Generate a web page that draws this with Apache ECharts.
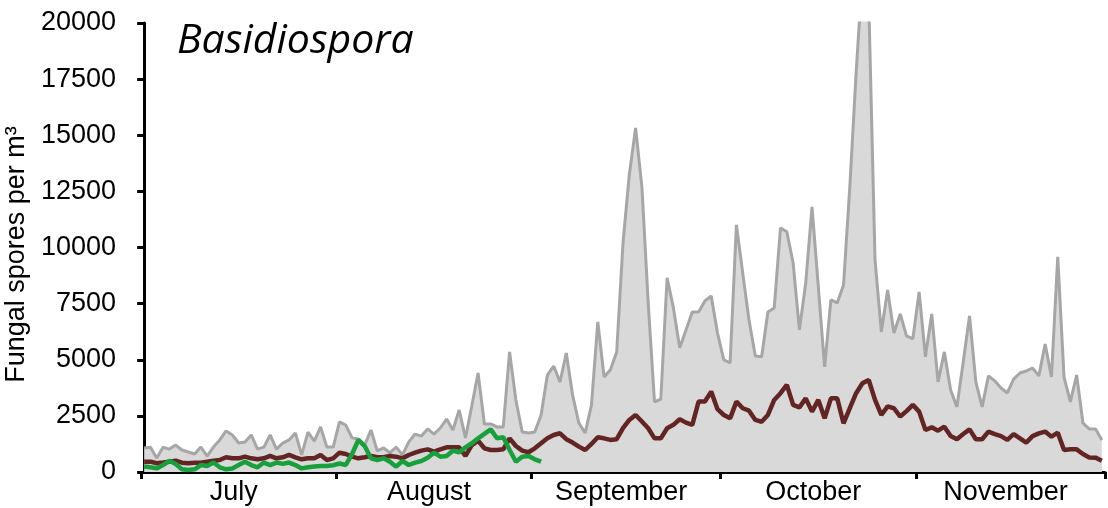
<!DOCTYPE html>
<html>
<head>
<meta charset="utf-8">
<script src="https://cdn.jsdelivr.net/npm/echarts@6/dist/echarts.min.js"></script>
<style>
html,body{margin:0;padding:0;background:#fff;}
#chart{width:1108px;height:508px;}
</style>
</head>
<body>
<div id="chart"></div>
<script>
// Daily values, 1 July (index 0) to 30 November (index 152)
const totalSpores = [
  1070,1100,620,1100,1020,1200,980,890,800,1110,710,1110,1430,1830,1650,1290,1340,1650,1020,1110,1650,1020,1290,1430,1740,760,1780,1380,2010,1110,1110,
  2230,2090,1520,1470,1200,1870,940,1070,850,1110,760,1340,1690,1600,1920,1690,1960,2360,1870,2760,1520,2940,4410,2140,2140,2010,2010,5350,3210,1780,1740,
  1780,2540,4320,4720,4010,5300,3430,2180,1740,2990,6690,4230,4550,5350,10200,13240,15330,12700,7530,3120,3250,8650,7310,5530,6330,7130,7130,7620,7840,6190,
  4990,4860,11010,8870,6770,5170,5130,7130,7310,10870,10700,9320,6330,8420,11810,8250,4680,7670,7530,8330,12700,17780,22200,21000,9450,6240,8110,6190,7040,6060,5930,
  8020,5130,7040,4010,5350,3650,2900,4900,6950,4010,2900,4280,4060,3740,3520,4140,4410,4500,4630,4280,5700,4230,9580,4230,3120,4320,2180,1920,1920,1430
];
const meanSpores = [
  460,460,390,420,460,505,415,390,415,415,460,505,535,655,610,610,685,610,565,610,715,610,655,760,655,565,610,610,760,535,610,
  860,800,683,609,654,713,654,654,713,683,609,757,862,950,1010,906,1010,1100,1100,1100,713,1200,1390,1055,980,980,1010,1500,1160,950,880,
  1055,1280,1500,1650,1725,1460,1310,1130,980,1250,1550,1500,1430,1460,1950,2320,2540,2250,1950,1500,1500,1950,2100,2350,2200,2100,3140,3140,3580,2800,
  2540,2390,3135,2840,2730,2320,2240,2540,3210,3510,3880,2990,2880,3280,2690,3210,2390,3280,3280,2170,2840,3510,3950,4100,3210,2540,2920,2840,2470,2710,2990,
  2690,1870,1990,1840,2020,1600,1460,1690,1900,1460,1460,1800,1690,1600,1430,1690,1500,1310,1600,1720,1800,1575,1750,980,1010,1010,800,650,640,505
];
const currentYear = [
  240,210,160,310,500,360,120,90,120,310,270,420,210,120,160,310,460,310,210,420,310,420,360,420,310,160,210,240,270,270,300,
  380,312,800,1426,1158,609,535,609,460,238,490,312,416,490,639,862,683,713,950,877,1100,1280,1500,1700,1900,1500,1545,980,460,683,713,
  565,460
];
const monthNames = ['July','August','September','October','November'];
const monthStarts = [0,31,62,92,123,153];
const yTicks = {min:0, max:20000, step:2500};
const titleText = 'Basidiospora';
const yAxisName = 'Fungal spores per m\u00B3';

const pairs = arr => arr.map((v,i)=>[i,v]);
const tickVals = monthStarts.map(d=>d-0.5);
const labelVals = monthNames.map((m,k)=>(monthStarts[k]+monthStarts[k+1])/2-0.5);

const chart = echarts.init(document.getElementById('chart'), null, {renderer:'canvas'});
chart.setOption({
  animation:false,
  backgroundColor:'#ffffff',
  title:{
    text:titleText, left:172, top:16,
    textStyle:{fontFamily:'Open Sans', fontStyle:'italic', fontWeight:'normal', fontSize:41, color:'#000'}
  },
  grid:{left:141, right:3, top:23, bottom:36, containLabel:false, outerBoundsMode:'none'},
  xAxis:{
    type:'value', min:-0.5, max:152.5,
    splitLine:{show:false},
    axisLine:{show:true, onZero:false, lineStyle:{color:'#000', width:3}},
    axisTick:{show:true, customValues:tickVals, length:7, lineStyle:{color:'#000', width:3}},
    axisLabel:{
      customValues:labelVals, margin:7, padding:[0,10,0,0],
      fontFamily:'Liberation Sans, Arial', fontSize:27, color:'#000',
      formatter:function(v){ const k = labelVals.findIndex(x=>Math.abs(x-v)<0.01); return k>=0?monthNames[k]:''; }
    }
  },
  yAxis:{
    type:'value', min:yTicks.min, max:yTicks.max, interval:yTicks.step,
    name:yAxisName, nameLocation:'middle', nameGap:103, nameRotate:90,
    nameTextStyle:{fontFamily:'Liberation Sans, Arial', fontSize:27, color:'#000', padding:[0,0,0,-14]},
    splitLine:{show:false},
    axisLine:{show:true, lineStyle:{color:'#000', width:3}},
    axisTick:{show:true, length:7, lineStyle:{color:'#000', width:3}},
    axisLabel:{margin:25, fontFamily:'Liberation Sans, Arial', fontSize:27, color:'#000',
      formatter:function(v){ return String(v); }}
  },
  series:[
    {type:'line', data:pairs(totalSpores), showSymbol:false, clip:true, z:1,
     lineStyle:{color:'#a6a6a6', width:3}, areaStyle:{color:'#d9d9d9', opacity:1}},
    {type:'line', data:pairs(meanSpores), showSymbol:false, clip:true, z:2,
     lineStyle:{color:'#632523', width:4.5}},
    {type:'line', data:pairs(currentYear), showSymbol:false, clip:true, z:3,
     lineStyle:{color:'#17a03b', width:4.5}}
  ]
});
</script>
</body>
</html>
